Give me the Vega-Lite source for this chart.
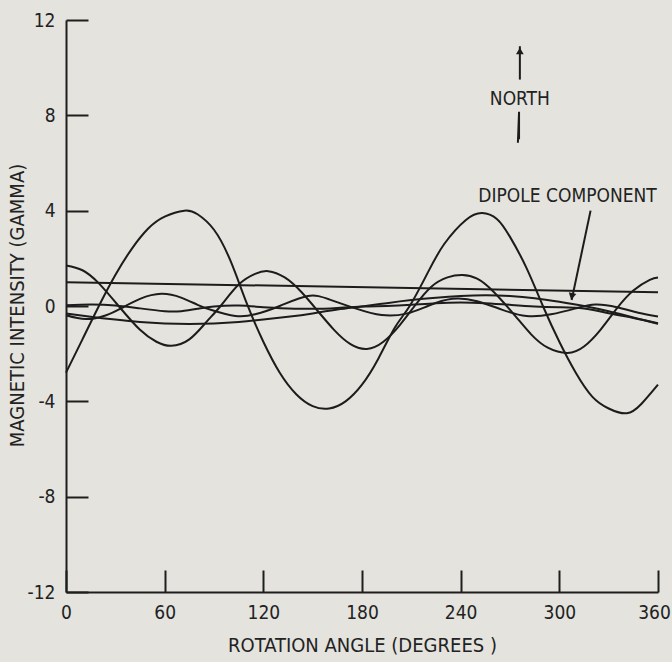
{
  "$schema": "https://vega.github.io/schema/vega-lite/v6.json",
  "width": 592,
  "height": 572,
  "autosize": {"type": "none"},
  "padding": {"left": 66, "top": 20, "right": 14, "bottom": 70},
  "background": "#e4e3de",
  "config": {
    "view": {"stroke": null},
    "font": "Liberation Sans Narrow, DejaVu Sans Condensed, Liberation Sans, sans-serif",
    "axis": {
      "grid": false,
      "domainColor": "#1e1e1e",
      "domainWidth": 2,
      "tickColor": "#1e1e1e",
      "tickWidth": 2,
      "labelColor": "#222222",
      "titleColor": "#222222",
      "labelFontSize": 19,
      "titleFontSize": 20,
      "titleFontWeight": "normal",
      "labelFlush": false
    }
  },
  "datasets": {
    "curves": [
      {"curve": "A", "angle": 0, "value": -2.8},
      {"curve": "A", "angle": 10, "value": -1.4},
      {"curve": "A", "angle": 20, "value": 0.0},
      {"curve": "A", "angle": 30, "value": 1.3},
      {"curve": "A", "angle": 40, "value": 2.4},
      {"curve": "A", "angle": 50, "value": 3.25},
      {"curve": "A", "angle": 60, "value": 3.75},
      {"curve": "A", "angle": 72, "value": 4.0},
      {"curve": "A", "angle": 80, "value": 3.85},
      {"curve": "A", "angle": 90, "value": 3.2},
      {"curve": "A", "angle": 100, "value": 1.9},
      {"curve": "A", "angle": 110, "value": 0.1},
      {"curve": "A", "angle": 120, "value": -1.5},
      {"curve": "A", "angle": 130, "value": -2.8},
      {"curve": "A", "angle": 140, "value": -3.7},
      {"curve": "A", "angle": 150, "value": -4.2},
      {"curve": "A", "angle": 160, "value": -4.3},
      {"curve": "A", "angle": 170, "value": -4.0},
      {"curve": "A", "angle": 180, "value": -3.3},
      {"curve": "A", "angle": 190, "value": -2.2},
      {"curve": "A", "angle": 200, "value": -0.9},
      {"curve": "A", "angle": 209, "value": 0.0},
      {"curve": "A", "angle": 220, "value": 1.4},
      {"curve": "A", "angle": 230, "value": 2.6},
      {"curve": "A", "angle": 243, "value": 3.6},
      {"curve": "A", "angle": 253, "value": 3.9},
      {"curve": "A", "angle": 262, "value": 3.65},
      {"curve": "A", "angle": 270, "value": 2.9},
      {"curve": "A", "angle": 280, "value": 1.6},
      {"curve": "A", "angle": 290, "value": 0.0},
      {"curve": "A", "angle": 300, "value": -1.5},
      {"curve": "A", "angle": 310, "value": -2.8},
      {"curve": "A", "angle": 320, "value": -3.8},
      {"curve": "A", "angle": 330, "value": -4.3},
      {"curve": "A", "angle": 341, "value": -4.5},
      {"curve": "A", "angle": 350, "value": -4.1},
      {"curve": "A", "angle": 360, "value": -3.3},

      {"curve": "B", "angle": 0, "value": 1.7},
      {"curve": "B", "angle": 10, "value": 1.5},
      {"curve": "B", "angle": 20, "value": 0.95},
      {"curve": "B", "angle": 32, "value": 0.0},
      {"curve": "B", "angle": 45, "value": -1.0},
      {"curve": "B", "angle": 55, "value": -1.5},
      {"curve": "B", "angle": 64, "value": -1.67},
      {"curve": "B", "angle": 75, "value": -1.4},
      {"curve": "B", "angle": 85, "value": -0.7},
      {"curve": "B", "angle": 94, "value": 0.0},
      {"curve": "B", "angle": 105, "value": 0.9},
      {"curve": "B", "angle": 115, "value": 1.35},
      {"curve": "B", "angle": 123, "value": 1.46},
      {"curve": "B", "angle": 133, "value": 1.2},
      {"curve": "B", "angle": 143, "value": 0.6},
      {"curve": "B", "angle": 153, "value": -0.2},
      {"curve": "B", "angle": 163, "value": -1.0},
      {"curve": "B", "angle": 173, "value": -1.6},
      {"curve": "B", "angle": 183, "value": -1.8},
      {"curve": "B", "angle": 193, "value": -1.5},
      {"curve": "B", "angle": 203, "value": -0.8},
      {"curve": "B", "angle": 212, "value": 0.0},
      {"curve": "B", "angle": 222, "value": 0.8},
      {"curve": "B", "angle": 232, "value": 1.2},
      {"curve": "B", "angle": 241, "value": 1.3},
      {"curve": "B", "angle": 250, "value": 1.15},
      {"curve": "B", "angle": 260, "value": 0.6},
      {"curve": "B", "angle": 273, "value": -0.4},
      {"curve": "B", "angle": 283, "value": -1.2},
      {"curve": "B", "angle": 293, "value": -1.75},
      {"curve": "B", "angle": 305, "value": -1.97},
      {"curve": "B", "angle": 315, "value": -1.7},
      {"curve": "B", "angle": 325, "value": -1.0},
      {"curve": "B", "angle": 335, "value": -0.1},
      {"curve": "B", "angle": 345, "value": 0.65},
      {"curve": "B", "angle": 355, "value": 1.1},
      {"curve": "B", "angle": 360, "value": 1.2},

      {"curve": "C", "angle": 0, "value": 1.0},
      {"curve": "C", "angle": 360, "value": 0.58},

      {"curve": "D", "angle": 0, "value": -0.31},
      {"curve": "D", "angle": 15, "value": -0.45},
      {"curve": "D", "angle": 30, "value": -0.57},
      {"curve": "D", "angle": 45, "value": -0.67},
      {"curve": "D", "angle": 60, "value": -0.73},
      {"curve": "D", "angle": 75, "value": -0.75},
      {"curve": "D", "angle": 90, "value": -0.73},
      {"curve": "D", "angle": 105, "value": -0.67},
      {"curve": "D", "angle": 120, "value": -0.57},
      {"curve": "D", "angle": 135, "value": -0.45},
      {"curve": "D", "angle": 150, "value": -0.31},
      {"curve": "D", "angle": 165, "value": -0.15},
      {"curve": "D", "angle": 180, "value": -0.02},
      {"curve": "D", "angle": 195, "value": 0.12},
      {"curve": "D", "angle": 210, "value": 0.25},
      {"curve": "D", "angle": 225, "value": 0.35},
      {"curve": "D", "angle": 240, "value": 0.42},
      {"curve": "D", "angle": 255, "value": 0.45},
      {"curve": "D", "angle": 270, "value": 0.42},
      {"curve": "D", "angle": 285, "value": 0.33},
      {"curve": "D", "angle": 300, "value": 0.18},
      {"curve": "D", "angle": 315, "value": 0.0},
      {"curve": "D", "angle": 330, "value": -0.22},
      {"curve": "D", "angle": 345, "value": -0.48},
      {"curve": "D", "angle": 360, "value": -0.75},

      {"curve": "E", "angle": 0, "value": -0.39},
      {"curve": "E", "angle": 12, "value": -0.55},
      {"curve": "E", "angle": 24, "value": -0.4},
      {"curve": "E", "angle": 34, "value": -0.08},
      {"curve": "E", "angle": 45, "value": 0.3},
      {"curve": "E", "angle": 58, "value": 0.51},
      {"curve": "E", "angle": 70, "value": 0.35},
      {"curve": "E", "angle": 80, "value": 0.05},
      {"curve": "E", "angle": 89, "value": -0.18},
      {"curve": "E", "angle": 103, "value": -0.42},
      {"curve": "E", "angle": 115, "value": -0.35},
      {"curve": "E", "angle": 130, "value": 0.0},
      {"curve": "E", "angle": 147, "value": 0.42},
      {"curve": "E", "angle": 160, "value": 0.28},
      {"curve": "E", "angle": 176, "value": -0.1},
      {"curve": "E", "angle": 192, "value": -0.38},
      {"curve": "E", "angle": 207, "value": -0.32},
      {"curve": "E", "angle": 220, "value": 0.0},
      {"curve": "E", "angle": 235, "value": 0.3},
      {"curve": "E", "angle": 250, "value": 0.2},
      {"curve": "E", "angle": 265, "value": -0.15},
      {"curve": "E", "angle": 280, "value": -0.42},
      {"curve": "E", "angle": 295, "value": -0.35},
      {"curve": "E", "angle": 310, "value": -0.1},
      {"curve": "E", "angle": 322, "value": 0.06},
      {"curve": "E", "angle": 335, "value": -0.05},
      {"curve": "E", "angle": 348, "value": -0.28},
      {"curve": "E", "angle": 360, "value": -0.44},

      {"curve": "F", "angle": 0, "value": 0.03},
      {"curve": "F", "angle": 15, "value": 0.06},
      {"curve": "F", "angle": 30, "value": 0.02},
      {"curve": "F", "angle": 45, "value": -0.1},
      {"curve": "F", "angle": 60, "value": -0.22},
      {"curve": "F", "angle": 70, "value": -0.22},
      {"curve": "F", "angle": 80, "value": -0.12},
      {"curve": "F", "angle": 90, "value": -0.02},
      {"curve": "F", "angle": 105, "value": 0.02},
      {"curve": "F", "angle": 120, "value": -0.05},
      {"curve": "F", "angle": 135, "value": -0.1},
      {"curve": "F", "angle": 150, "value": -0.12},
      {"curve": "F", "angle": 165, "value": -0.08},
      {"curve": "F", "angle": 180, "value": -0.02},
      {"curve": "F", "angle": 195, "value": 0.0},
      {"curve": "F", "angle": 210, "value": 0.05},
      {"curve": "F", "angle": 225, "value": 0.12},
      {"curve": "F", "angle": 240, "value": 0.15},
      {"curve": "F", "angle": 255, "value": 0.12},
      {"curve": "F", "angle": 270, "value": 0.05},
      {"curve": "F", "angle": 285, "value": -0.02},
      {"curve": "F", "angle": 300, "value": -0.05},
      {"curve": "F", "angle": 315, "value": -0.1},
      {"curve": "F", "angle": 330, "value": -0.3},
      {"curve": "F", "angle": 345, "value": -0.5},
      {"curve": "F", "angle": 360, "value": -0.72}
    ],
    "labels": [
      {"text": "NORTH", "angle": 276, "value": 8.67},
      {"text": "DIPOLE COMPONENT", "angle": 305, "value": 4.63}
    ],
    "pointers": [
      {"name": "north-up", "angle": 276, "value": 9.5},
      {"name": "north-up", "angle": 276, "value": 10.9},
      {"name": "north-down", "angle": 275.5, "value": 8.15},
      {"name": "north-down", "angle": 275.5, "value": 7.0},
      {"name": "north-down", "angle": 274.8, "value": 6.85},
      {"name": "dipole", "angle": 319, "value": 4.0},
      {"name": "dipole", "angle": 307.5, "value": 0.25}
    ],
    "heads": [
      {"angle": 276, "value": 10.7, "dir": 0},
      {"angle": 307.6, "value": 0.4, "dir": 193}
    ]
  },
  "layer": [
    {
      "data": {"name": "curves"},
      "mark": {"type": "line", "interpolate": "natural", "color": "#1c1c1c", "strokeWidth": 2},
      "encoding": {
        "x": {
          "field": "angle", "type": "quantitative",
          "scale": {"domain": [0, 360], "nice": false, "zero": false},
          "axis": {
            "title": "ROTATION ANGLE (DEGREES )",
            "values": [0, 60, 120, 180, 240, 300, 360],
            "tickSize": -22,
            "labelPadding": 33,
            "labelOffset": {"condition": {"test": "datum.value === 360", "value": -4}, "value": 0},
            "titleBaseline": "middle",
            "titleY": 53
          }
        },
        "y": {
          "field": "value", "type": "quantitative",
          "scale": {"domain": [-12, 12], "nice": false, "zero": false},
          "axis": {
            "title": "MAGNETIC INTENSITY (GAMMA)",
            "values": [-12, -8, -4, 0, 4, 8, 12],
            "labelExpr": "datum.value + ''",
            "tickSize": -22,
            "labelPadding": 33,
            "titleBaseline": "middle",
            "titleAlign": "center",
            "titleX": -49,
            "titleY": 285
          }
        },
        "detail": {"field": "curve"}
      }
    },
    {
      "data": {"name": "pointers"},
      "mark": {"type": "line", "color": "#1c1c1c", "strokeWidth": 2},
      "encoding": {
        "x": {"field": "angle", "type": "quantitative"},
        "y": {"field": "value", "type": "quantitative"},
        "detail": {"field": "name"}
      }
    },
    {
      "data": {"name": "heads"},
      "mark": {"type": "point", "shape": "triangle-up", "filled": true, "color": "#1c1c1c", "size": 60, "opacity": 1},
      "encoding": {
        "x": {"field": "angle", "type": "quantitative"},
        "y": {"field": "value", "type": "quantitative"},
        "angle": {"field": "dir", "type": "quantitative", "scale": null}
      }
    },
    {
      "data": {"name": "labels"},
      "mark": {"type": "text", "fontSize": 19, "color": "#222222", "align": "center", "baseline": "middle"},
      "encoding": {
        "x": {"field": "angle", "type": "quantitative"},
        "y": {"field": "value", "type": "quantitative"},
        "text": {"field": "text"}
      }
    }
  ]
}
